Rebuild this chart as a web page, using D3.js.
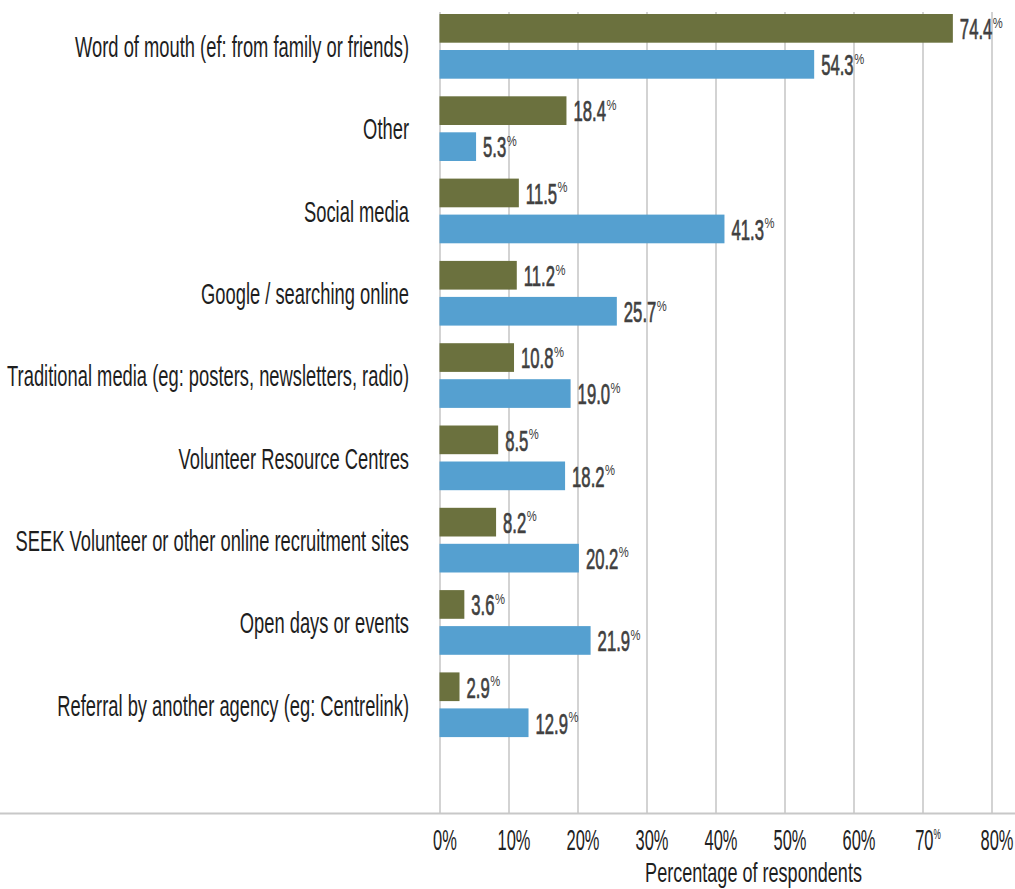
<!DOCTYPE html>
<html>
<head>
<meta charset="utf-8">
<script src="https://cdn.jsdelivr.net/npm/d3@7"></script>
<style>
  html, body { margin: 0; padding: 0; background: #fff; }
  svg { display: block; }
  text { font-family: "Liberation Sans Narrow", "Liberation Sans", Arial, sans-serif; }
</style>
</head>
<body>
<svg id="chart" width="1015" height="889"></svg>
<script>
// Recruitment channels and the share of respondents for each series
const categories = [
  "Word of mouth (ef: from family or friends)",
  "Other",
  "Social media",
  "Google / searching online",
  "Traditional media (eg: posters, newsletters, radio)",
  "Volunteer Resource Centres",
  "SEEK Volunteer or other online recruitment sites",
  "Open days or events",
  "Referral by another agency (eg: Centrelink)"
];
const seriesNames = ["Series 1", "Series 2"];
const series1 = [74.4, 18.4, 11.5, 11.2, 10.8, 8.5, 8.2, 3.6, 2.9];
const series2 = [54.3, 5.3, 41.3, 25.7, 19.0, 18.2, 20.2, 21.9, 12.9];
const xTicks = [0, 10, 20, 30, 40, 50, 60, 70, 80];
const xTitle = "Percentage of respondents";

const colors = { "Series 1": "#6b713e", "Series 2": "#55a0d0" };

const svg = d3.select("#chart");
const W = 1015;
const gridTop = 12, axisY = 813.5;

const x = d3.scaleLinear().domain([0, 80]).range([439.5, 991.5]);
const y0 = d3.scaleBand().domain(categories).range([5.2, 745.9])
  .paddingInner(0.214).paddingOuter(0.107);
const y1 = d3.scaleBand().domain(seriesNames).range([0, y0.bandwidth()]).paddingInner(0.203);

const rows = categories.map((c, i) => ({
  cat: c,
  values: [
    { key: seriesNames[0], v: series1[i] },
    { key: seriesNames[1], v: series2[i] }
  ]
}));

// Horizontal squeeze factor so a reference string reaches a target width
function squeeze(str, size, target) {
  const t = svg.append("text").attr("font-size", size).text(str);
  const w = t.node().getComputedTextLength();
  t.remove();
  return target / w;
}
const sxCat = squeeze(categories[0], 30, 334);
const sxTick = squeeze("10%", 30, 33);
const sxVal = squeeze("74.4", 30, 32.5);
const sxPct = squeeze("%", 14, 10);

// Vertical gridlines with percentage labels underneath
const xAxis = d3.axisBottom(x).tickValues(xTicks)
  .tickSizeInner(-(axisY - gridTop)).tickSizeOuter(0).tickPadding(0)
  .tickFormat(d => d + "%");
const gx = svg.append("g").attr("transform", `translate(0,${axisY})`).call(xAxis);
gx.select(".domain").remove();
gx.selectAll(".tick line").attr("stroke", "#c8c8c8").attr("stroke-width", 1.6);
gx.selectAll(".tick text")
  .attr("font-size", 30).attr("fill", "#222")
  .attr("y", 36.5).attr("dy", null)
  .attr("transform", `translate(5,0) scale(${sxTick},1)`)
  .each(function(d) {
    if (d === 70) {
      const t = d3.select(this).text("");
      t.append("tspan").text("70");
      t.append("tspan").attr("font-size", 15).attr("dy", -11).text("%");
    }
  });

// Baseline
svg.append("line")
  .attr("x1", 0).attr("x2", W).attr("y1", axisY).attr("y2", axisY)
  .attr("stroke", "#c8c8c8").attr("stroke-width", 2.2);

// Bars
const groups = svg.append("g").selectAll("g").data(rows).join("g")
  .attr("transform", d => `translate(0,${y0(d.cat)})`);

groups.selectAll("rect").data(d => d.values).join("rect")
  .attr("x", x(0))
  .attr("y", d => y1(d.key))
  .attr("width", d => x(d.v) - x(0))
  .attr("height", y1.bandwidth())
  .attr("fill", d => colors[d.key]);

// Value labels followed by a small raised percent sign
const valueColor = "#404040";
groups.selectAll("g.val").data(d => d.values).join("g")
  .attr("class", "val")
  .each(function(d) {
    const g = d3.select(this);
    const bx = x(d.v) + 7;
    const by = y1(d.key) + y1.bandwidth() / 2 + 10.8;
    const num = g.append("text")
      .attr("font-size", 30).attr("fill", valueColor)
      .attr("stroke", valueColor).attr("stroke-width", 0.7)
      .attr("transform", `translate(${bx},${by}) scale(${sxVal},1)`)
      .text(d.v.toFixed(1));
    const w = num.node().getComputedTextLength() * sxVal;
    g.append("text")
      .attr("font-size", 14).attr("fill", valueColor)
      .attr("transform", `translate(${bx + w + 0.5},${by - 11.5}) scale(${sxPct},1)`)
      .text("%");
  });

// Category labels
svg.append("g").selectAll("text").data(categories).join("text")
  .attr("font-size", 30).attr("fill", "#1e1e1e")
  .attr("text-anchor", "end")
  .attr("transform", d => `translate(409,${y0(d) + y0.bandwidth() / 2 + 10.8}) scale(${sxCat},1)`)
  .text(d => d);

// Axis title
const sxTitle = squeeze(xTitle, 28, 217);
svg.append("text")
  .attr("font-size", 28).attr("fill", "#1e1e1e")
  .attr("text-anchor", "middle")
  .attr("transform", `translate(753.5,881.5) scale(${sxTitle},1)`)
  .text(xTitle);
</script>
</body>
</html>
